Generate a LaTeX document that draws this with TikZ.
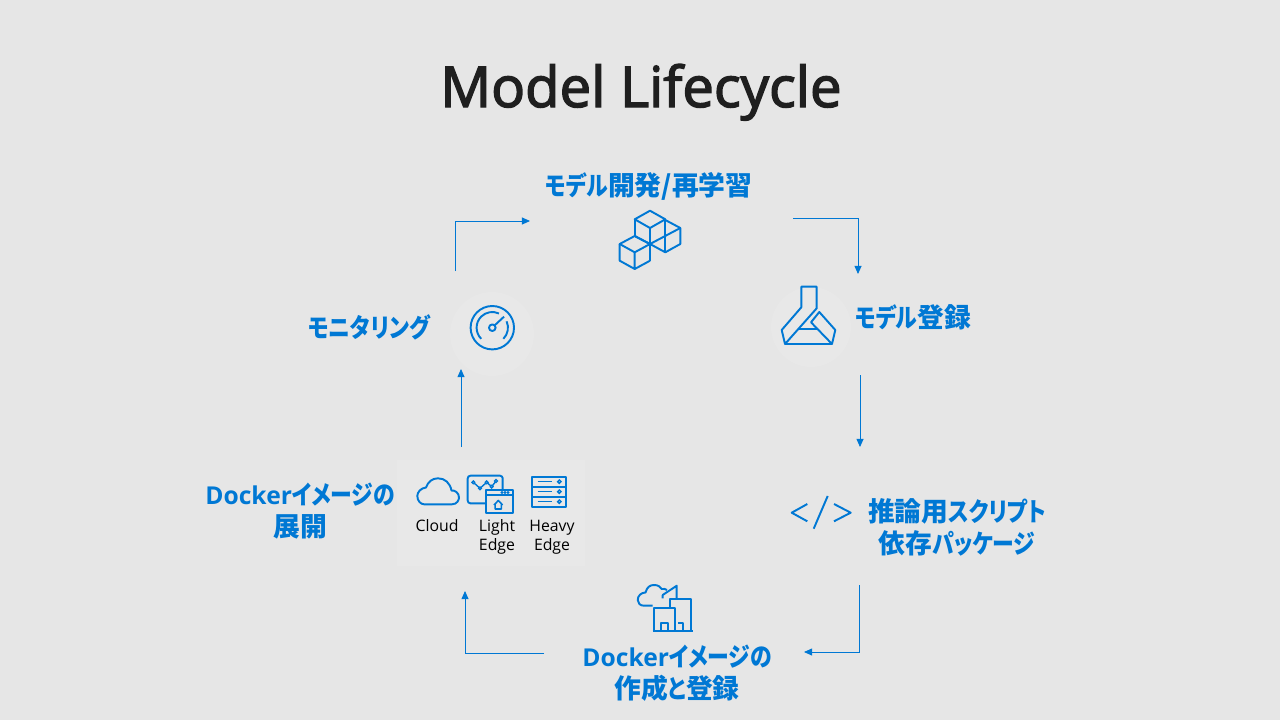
\documentclass[tikz,border=0pt]{standalone}
\usepackage{fontspec}
\setmainfont{Open Sans}
\newfontfamily\cjk{Noto Sans CJK JP}[RawFeature=+palt,Scale=1.09]
\newfontfamily\kanafont{Noto Sans CJK JP}[RawFeature=+palt,Scale=1.057,FakeStretch=.84]
\newfontfamily\titlefont{Open Sans}[FakeBold=2.5]
\usetikzlibrary{arrows.meta}
\definecolor{azure}{HTML}{0078D4}
\definecolor{pagebg}{HTML}{E6E6E6}
\definecolor{softbg}{HTML}{E8E8E8}
\definecolor{titleink}{HTML}{1F1F1F}
\newcommand{\jp}[1]{{\cjk #1}}
\newcommand{\kana}[1]{{\kanafont #1}}
\tikzset{
  steplabel/.style={text=azure,font=\fontsize{14}{18.2}\selectfont\bfseries,align=center,inner sep=0pt},
  edgelabel/.style={text=black,font=\fontsize{9}{10.8}\selectfont,align=center,inner sep=0pt},
  icon/.style={draw=azure,line width=1.1pt,line join=round},
  flow/.style={draw=azure,line width=.5pt,->},
  softspot/.style={circle,fill=softbg,inner sep=0pt}
}
\begin{document}
\begin{tikzpicture}[x=.02cm,y=-.02cm,>={Stealth[inset=0pt,length=4.6pt,width=4pt]}]
  \fill[pagebg] (0,0) rectangle (1280,720);
  \useasboundingbox (0,0) rectangle (1280,720);
  %Backdrops of the icons
  \node[softspot,minimum size=84*.02cm] (monitor) at (492,334) {};
  \node[softspot,minimum size=80*.02cm] (registry) at (811,327) {};
  \node[fill=softbg,inner sep=0pt,minimum width=188*.02cm,minimum height=106*.02cm] (targets) at (491,513) {};
  %Texts
  \node[text=titleink,font=\fontsize{32}{38}\selectfont\titlefont,anchor=base,inner sep=0pt] (title) at (641,107) {Model Lifecycle};
  \node[steplabel] (develop) at (649,186) {\kana{モデル}\jp{開発/再学習}};
  \node[steplabel] (monitortext) at (369,327) {\kana{モニタリング}};
  \node[steplabel] (registrytext) at (913,317) {\kana{モデル}\jp{登録}};
  \node[steplabel] (scoring) at (957,527) {\jp{推論用}\kana{スクリプト}\\\jp{依存}\kana{パッケージ}};
  \node[steplabel] (build) at (677,673) {Docker\kana{イメージの}\\\jp{作成}\kana{と}\jp{登録}};
  \node[steplabel] (deploy) at (300,511) {Docker\kana{イメージの}\\\jp{展開}};
  \node[edgelabel] (cloud) at (437,526) {Cloud};
  \node[edgelabel] (light) at (497,537) {Light\\Edge};
  \node[edgelabel] (heavy) at (552,537) {Heavy\\Edge};
  %Ends of the connectors
  \coordinate (a1) at (455,271);
  \coordinate (a2) at (530,221);
  \coordinate (b1) at (793,218);
  \coordinate (b2) at (858,274);
  \coordinate (c1) at (860,375);
  \coordinate (c2) at (860,447);
  \coordinate (d1) at (859,585);
  \coordinate (d2) at (804,652);
  \coordinate (e1) at (544,653);
  \coordinate (e2) at (465,591);
  \coordinate (f1) at (461,447);
  \coordinate (f2) at (461,369);
  \draw[flow] (a1) |- (a2);
  \draw[flow] (b1) -| (b2);
  \draw[flow] (c1) -- (c2);
  \draw[flow] (d1) |- (d2);
  \draw[flow] (e1) -| (e2);
  \draw[flow] (f1) -- (f2);
  %Cubes
  \draw[icon] (650,210.7)--(634.7,219.3)--(650,228)--(665.3,219.3)--cycle;
  \draw[icon] (634.7,219.3)--(634.7,236) (650,228)--(650,260.7) (665.3,219.3)--(665.3,252.3);
  \draw[icon] (665.3,220)--(680.3,228)--(680.3,244)--(665.3,252.3)--(650,244)--(634.7,236);
  \draw[icon] (680.3,228)--(650,244);
  \draw[icon] (634.7,236)--(619.7,244)--(634.7,252.3)--(650,244)--cycle;
  \draw[icon] (619.7,244)--(619.7,260.7)--(634.7,269)--(650,260.7) (634.7,252.3)--(634.7,269);
  %Flask
  \draw[icon] (785,344)--(781.7,330)--(801.3,307.3)--(801.3,286.7)--(816.7,286.7)--(816.7,308.3)--(785,344)--(832,344)--(835.3,330)--(819.3,312)--(811,322.3)--(832,344);
  \draw[icon] (798.3,328.7)--(817.3,328.7);
  %Gauge
  \draw[icon] (492.3,327.7) circle[radius=21.7];
  \draw[icon] (492.3,327.7) circle[radius=3.3];
  \draw[icon] (494.7,325.3)--(504,316.7);
  \draw[icon] (481.2,338.8) arc[start angle=135,end angle=295,radius=15.7];
  \draw[icon] (506.6,321.3) arc[start angle=-24,end angle=45,radius=15.7];
  %Code brackets
  \draw[icon] (807.3,504)--(791.7,512.7)--(807.3,521.3);
  \draw[icon] (827.7,496)--(813.7,528.7);
  \draw[icon] (834,504)--(850.7,512.7)--(834,521.3);
  %Cloud
  \draw[icon] (424,504.3)--(452,504.3) .. controls (457,504.3) and (459,500) .. (459,497.5) .. controls (459,493) and (455,490) .. (451.5,490.5) .. controls (450,483) and (445,478.3) .. (438,478.3) .. controls (432,478.3) and (428,482) .. (426,487.5) .. controls (421,488) and (417.3,492) .. (417.3,496) .. controls (417.3,501) and (421,504.3) .. (424,504.3) -- cycle;
  %Light edge
  \draw[icon,rounded corners=1.5pt] (485.7,503.3)--(467.7,503.3)--(467.7,475.7)--(502.7,475.7)--(502.7,489.7);
  \draw[icon,line width=.8pt] (473.3,482.3)--(480,488.3)--(486.7,482.3)--(491.7,486.7)--(496,481);
  \foreach \px/\py in {473.3/482.3,480/488.3,486.7/482.3,491.7/486.7,496/481} \draw[azure,fill=pagebg,line width=.7pt] (\px,\py) circle[radius=1.4];
  \draw[icon,fill=pagebg] (485.7,489.7) rectangle (513.3,513.3);
  \draw[icon] (485.7,495)--(513.3,495);
  \foreach \px in {502,505,508} \fill[azure] (\px,492.5) circle[radius=1.7];
  \draw[icon,line width=.9pt] (494,505)--(498.3,500.5)--(502.6,505) (495.2,504)--(495.2,509)--(501.4,509)--(501.4,504);
  %Heavy edge
  \foreach \ry in {476.7,486.7,496.7} {
    \draw[icon] (531.7,\ry) rectangle (565.7,\ry+10);
    \draw[icon,line width=.8pt] (537.7,\ry+5)--(552.3,\ry+5);
    \draw[azure,line width=.8pt] (559.3,\ry+5) circle[radius=1.7];
  }
  %Factory and cloud
  \draw[icon] (652.7,605.7)--(644,605.7) .. controls (640,605.7) and (637.7,603) .. (637.7,600) .. controls (637.7,596) and (641,592.5) .. (645.5,592.5) .. controls (647,587) and (650,585) .. (654,585) .. controls (658,585) and (660,586.5) .. (661.7,589) .. controls (663.5,588.5) and (665.5,589) .. (667,590);
  \draw[icon] (662.7,598.3)--(662.7,595)--(676.7,585.7)--(676.7,598.3);
  \draw[icon] (670,607.7)--(670,599)--(690.7,599)--(690.7,631);
  \draw[icon] (654.3,631)--(654.3,607.7)--(675,607.7)--(675,631);
  \draw[icon] (652.7,631)--(692.7,631);
  \draw[icon] (660.7,631)--(660.7,622.7)--(668.3,622.7)--(668.3,631);
  \draw[icon] (678.3,622.7)--(683.3,622.7)--(683.3,631);
\end{tikzpicture}
\end{document}
